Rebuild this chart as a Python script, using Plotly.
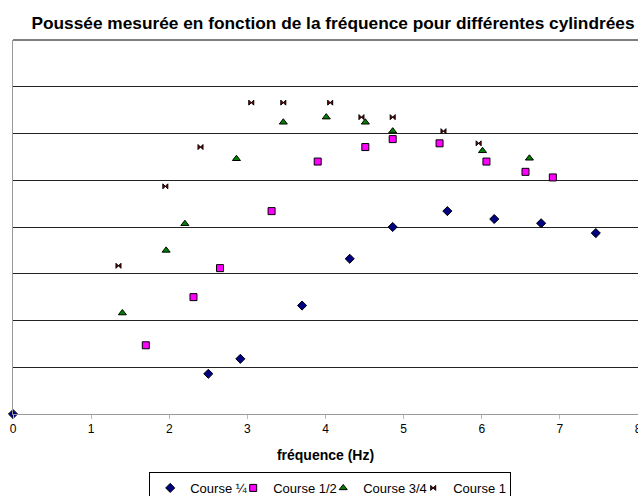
import plotly.graph_objects as go

# Course 1/4
x_q1 = [0, 2.50, 2.91, 3.70, 4.31, 4.86, 5.56, 6.16, 6.76, 7.46]
y_q1 = [0, 0.86, 1.18, 2.32, 3.32, 4.00, 4.34, 4.17, 4.08, 3.87]
# Course 1/2
x_q2 = [1.70, 2.31, 2.65, 3.31, 3.90, 4.51, 4.86, 5.46, 6.06, 6.56, 6.91]
y_q2 = [1.47, 2.50, 3.12, 4.34, 5.40, 5.71, 5.88, 5.79, 5.40, 5.18, 5.06]
# Course 3/4
x_q3 = [1.40, 1.96, 2.20, 2.86, 3.46, 4.01, 4.51, 4.86, 6.01, 6.61]
y_q3 = [2.16, 3.50, 4.07, 5.46, 6.24, 6.35, 6.24, 6.05, 5.63, 5.47]
# Course 1
x_q4 = [1.35, 1.95, 2.40, 3.05, 3.46, 4.06, 4.46, 4.86, 5.51, 5.96]
y_q4 = [3.17, 4.87, 5.71, 6.66, 6.66, 6.66, 6.35, 6.35, 6.05, 5.79]

names = ["Course ¼", "Course 1/2", "Course 3/4", "Course 1"]
x_ticks = [0, 1, 2, 3, 4, 5, 6, 7, 8]

fig = go.Figure()
fig.add_trace(go.Scatter(x=x_q1, y=y_q1, mode="markers", name=names[0], legendwidth=38,
                         marker=dict(symbol="diamond", size=7, color="#000080",
                                     line=dict(color="#000000", width=1)),
                         cliponaxis=False))
fig.add_trace(go.Scatter(x=x_q2, y=y_q2, mode="markers", name=names[1], legendwidth=45,
                         marker=dict(symbol="square", size=7, color="#FF00FF",
                                     line=dict(color="#000000", width=1)),
                         cliponaxis=False))
fig.add_trace(go.Scatter(x=x_q3, y=y_q3, mode="markers", name=names[2], legendwidth=45,
                         marker=dict(symbol="triangle-up", size=7, color="#008000",
                                     line=dict(color="#000000", width=1)),
                         cliponaxis=False))
fig.add_trace(go.Scatter(x=x_q4, y=y_q4, mode="markers", name=names[3], legendwidth=52,
                         marker=dict(symbol="bowtie", size=5, color="#800000",
                                     line=dict(color="#000000", width=1)),
                         cliponaxis=False))

fig.update_layout(
    width=638, height=496,
    margin=dict(l=13, r=0, t=40, b=82, autoexpand=False),
    paper_bgcolor="white", plot_bgcolor="white",
    font=dict(family="Liberation Sans, Arial, sans-serif", size=12, color="black"),
    title=dict(text="<b>Poussée mesurée en fonction de la fréquence pour différentes cylindrées</b>",
               x=0.512, xref="paper", xanchor="center", y=1 - 23 / 496, yanchor="middle",
               font=dict(size=17.3, color="black")),
    showlegend=True,
    legend=dict(orientation="h", x=(149 - 13) / 624, xanchor="left", y=-0.155, yanchor="top",
                bordercolor="black", borderwidth=1, font=dict(size=13),
                itemwidth=30, tracegroupgap=0),
    xaxis=dict(range=[0, 8], tickvals=x_ticks, ticktext=[str(t) for t in x_ticks],
               showgrid=False, zeroline=False, showline=True, linecolor="#999999",
               linewidth=1, ticks="outside", ticklen=4, tickcolor="#BBBBBB",
               tickfont=dict(size=12), automargin=False, ticklabeloverflow="allow",
               title=dict(text="<b>fréquence (Hz)</b>", font=dict(size=14), standoff=14)),
    yaxis=dict(range=[0, 8], dtick=1, showticklabels=False, showgrid=True,
               gridcolor="#222222", gridwidth=1, zeroline=False, showline=True,
               linecolor="#999999", linewidth=1, ticks="", automargin=False),
)
fig.add_shape(type="line", xref="paper", yref="paper", x0=0, x1=1, y0=1, y1=1,
              line=dict(color="black", width=1))

fig.write_html("out.html", config={"displayModeBar": False},
               post_script="document.body.style.margin='0';document.body.style.padding='0';"
                           "document.body.style.overflow='hidden';")
